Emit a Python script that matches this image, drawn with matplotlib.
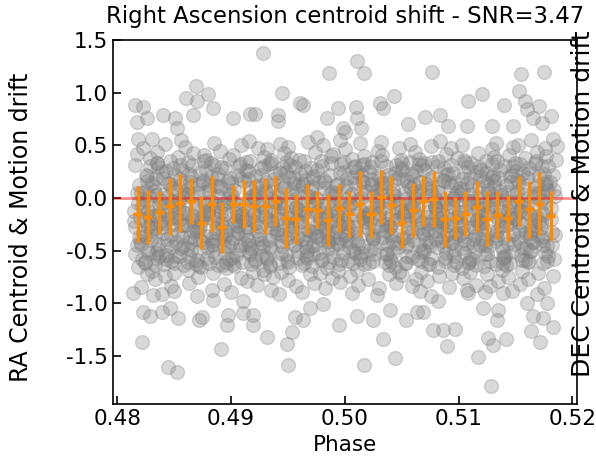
import numpy as np
import matplotlib
matplotlib.use("Agg")
import matplotlib.pyplot as plt

# ------------------------------------- Data ----------#
# Binned centroid shift (orange error bars)
bin_phase = [0.4818, 0.4827, 0.4837, 0.4846, 0.4855, 0.4865, 0.4874, 0.4883,
             0.4892, 0.4902, 0.4911, 0.4920, 0.4930, 0.4939, 0.4948, 0.4957,
             0.4967, 0.4976, 0.4985, 0.4995, 0.5004, 0.5013, 0.5023, 0.5032,
             0.5041, 0.5050, 0.5060, 0.5069, 0.5078, 0.5088, 0.5097, 0.5106,
             0.5116, 0.5125, 0.5134, 0.5143, 0.5153, 0.5162, 0.5171, 0.5181]
bin_mean = [-0.151, -0.180, -0.137, -0.081, -0.047, -0.031, -0.235, -0.053,
            -0.280, -0.055, -0.059, -0.078, -0.075, -0.031, -0.188, -0.201,
            -0.105, -0.110, -0.209, -0.100, -0.153, -0.059, -0.156, 0.006,
            -0.067, -0.241, -0.114, -0.031, -0.011, -0.201, -0.193, -0.148,
            -0.082, -0.196, -0.164, -0.188, -0.028, -0.109, -0.053, -0.169]
bin_err = [0.263, 0.260, 0.201, 0.269, 0.276, 0.219, 0.254, 0.266,
           0.239, 0.179, 0.231, 0.250, 0.263, 0.235, 0.284, 0.239,
           0.233, 0.180, 0.247, 0.228, 0.217, 0.311, 0.220, 0.255,
           0.271, 0.231, 0.257, 0.235, 0.263, 0.265, 0.199, 0.212,
           0.241, 0.260, 0.228, 0.220, 0.241, 0.268, 0.298, 0.233]

# Individual points - the band, one line per 0.001 of phase
core_phase = [
    0.4815, 0.4816, 0.4817, 0.4818, 0.4819, 0.4816, 0.4818, 0.4817,
    0.4821, 0.4823, 0.4825, 0.4822, 0.4827, 0.4829, 0.4824, 0.4826, 0.4828, 0.4820, 0.4823, 0.4827, 0.4825, 0.4829, 0.4821, 0.4826, 0.4824, 0.4828,
    0.4830, 0.4832, 0.4834, 0.4836, 0.4838, 0.4831, 0.4833, 0.4835, 0.4837, 0.4839, 0.4832, 0.4836, 0.4830, 0.4834, 0.4838, 0.4833, 0.4837, 0.4835,
    0.4843, 0.4846, 0.4841, 0.4848, 0.4844, 0.4849, 0.4842, 0.4847, 0.4840, 0.4845, 0.4848, 0.4841, 0.4846, 0.4843, 0.4849, 0.4844, 0.4842, 0.4847,
    0.4852, 0.4855, 0.4858, 0.4850, 0.4853, 0.4856, 0.4859, 0.4851, 0.4854, 0.4857, 0.4850, 0.4853, 0.4855, 0.4858, 0.4852, 0.4856, 0.4859, 0.4854,
    0.4861, 0.4864, 0.4867, 0.4860, 0.4862, 0.4865, 0.4868, 0.4863, 0.4866, 0.4869, 0.4861, 0.4864, 0.4867, 0.4862, 0.4865, 0.4868, 0.4860, 0.4866,
    0.4870, 0.4873, 0.4876, 0.4879, 0.4872, 0.4875, 0.4878, 0.4871, 0.4874, 0.4877, 0.4870, 0.4873, 0.4876, 0.4879, 0.4872, 0.4875, 0.4878, 0.4874,
    0.4882, 0.4886, 0.4889, 0.4881, 0.4884, 0.4888, 0.4880, 0.4883, 0.4887, 0.4885, 0.4882, 0.4886, 0.4889, 0.4881, 0.4884, 0.4888, 0.4883, 0.4887,
    0.4891, 0.4895, 0.4898, 0.4893, 0.4890, 0.4896, 0.4899, 0.4892, 0.4894, 0.4897, 0.4891, 0.4895, 0.4898, 0.4893, 0.4890, 0.4896, 0.4899, 0.4894,
    0.4900, 0.4904, 0.4907, 0.4902, 0.4905, 0.4909, 0.4901, 0.4903, 0.4906, 0.4908, 0.4900, 0.4904, 0.4907, 0.4902, 0.4905, 0.4909, 0.4903, 0.4906,
    0.4913, 0.4917, 0.4910, 0.4915, 0.4919, 0.4912, 0.4916, 0.4911, 0.4914, 0.4918, 0.4913, 0.4917, 0.4910, 0.4915, 0.4919, 0.4912, 0.4916, 0.4918,
    0.4921, 0.4924, 0.4928, 0.4922, 0.4926, 0.4929, 0.4920, 0.4923, 0.4925, 0.4927, 0.4921, 0.4924, 0.4928, 0.4922, 0.4926, 0.4929, 0.4925, 0.4920,
    0.4930, 0.4933, 0.4936, 0.4939, 0.4931, 0.4934, 0.4937, 0.4932, 0.4935, 0.4938, 0.4930, 0.4933, 0.4936, 0.4939, 0.4931, 0.4934, 0.4937, 0.4935,
    0.4942, 0.4945, 0.4948, 0.4941, 0.4944, 0.4947, 0.4940, 0.4943, 0.4946, 0.4949, 0.4942, 0.4945, 0.4948, 0.4941, 0.4944, 0.4947, 0.4949, 0.4943,
    0.4951, 0.4955, 0.4959, 0.4953, 0.4957, 0.4950, 0.4954, 0.4958, 0.4952, 0.4956, 0.4951, 0.4955, 0.4959, 0.4953, 0.4957, 0.4950, 0.4954, 0.4958,
    0.4960, 0.4964, 0.4967, 0.4962, 0.4965, 0.4969, 0.4961, 0.4963, 0.4966, 0.4968, 0.4960, 0.4964, 0.4967, 0.4962, 0.4965, 0.4969, 0.4963, 0.4966,
    0.4973, 0.4976, 0.4979, 0.4971, 0.4974, 0.4978, 0.4970, 0.4972, 0.4975, 0.4977, 0.4973, 0.4976, 0.4979, 0.4971, 0.4974, 0.4978, 0.4972, 0.4975,
    0.4982, 0.4985, 0.4988, 0.4980, 0.4984, 0.4987, 0.4981, 0.4983, 0.4986, 0.4989, 0.4982, 0.4985, 0.4988, 0.4980, 0.4984, 0.4987, 0.4989, 0.4983,
    0.4991, 0.4994, 0.4997, 0.4990, 0.4993, 0.4996, 0.4999, 0.4992, 0.4995, 0.4998, 0.4991, 0.4994, 0.4997, 0.4990, 0.4993, 0.4996, 0.4998, 0.4995,
    0.5000, 0.5003, 0.5006, 0.5009, 0.5002, 0.5005, 0.5008, 0.5001, 0.5004, 0.5007, 0.5000, 0.5003, 0.5006, 0.5009, 0.5002, 0.5005, 0.5008, 0.5004,
    0.5012, 0.5015, 0.5019, 0.5011, 0.5014, 0.5017, 0.5010, 0.5013, 0.5016, 0.5018, 0.5012, 0.5015, 0.5019, 0.5011, 0.5014, 0.5017, 0.5013, 0.5016,
    0.5021, 0.5024, 0.5028, 0.5020, 0.5023, 0.5026, 0.5029, 0.5022, 0.5025, 0.5027, 0.5021, 0.5024, 0.5028, 0.5020, 0.5023, 0.5026, 0.5029, 0.5025,
    0.5030, 0.5033, 0.5037, 0.5032, 0.5035, 0.5039, 0.5031, 0.5034, 0.5036, 0.5038, 0.5030, 0.5033, 0.5037, 0.5032, 0.5035, 0.5039, 0.5034, 0.5036,
    0.5042, 0.5046, 0.5049, 0.5041, 0.5044, 0.5048, 0.5040, 0.5043, 0.5045, 0.5047, 0.5042, 0.5046, 0.5049, 0.5041, 0.5044, 0.5048, 0.5045, 0.5040,
    0.5051, 0.5055, 0.5058, 0.5053, 0.5050, 0.5056, 0.5059, 0.5052, 0.5054, 0.5057, 0.5051, 0.5055, 0.5058, 0.5053, 0.5050, 0.5056, 0.5059, 0.5054,
    0.5060, 0.5064, 0.5067, 0.5062, 0.5065, 0.5069, 0.5061, 0.5063, 0.5066, 0.5068, 0.5060, 0.5064, 0.5067, 0.5062, 0.5065, 0.5069, 0.5063, 0.5066,
    0.5073, 0.5077, 0.5070, 0.5075, 0.5079, 0.5072, 0.5076, 0.5071, 0.5074, 0.5078, 0.5073, 0.5077, 0.5070, 0.5075, 0.5079, 0.5072, 0.5076, 0.5078,
    0.5081, 0.5084, 0.5088, 0.5082, 0.5086, 0.5089, 0.5080, 0.5083, 0.5085, 0.5087, 0.5081, 0.5084, 0.5088, 0.5082, 0.5086, 0.5089, 0.5085, 0.5080,
    0.5090, 0.5093, 0.5096, 0.5099, 0.5091, 0.5094, 0.5097, 0.5092, 0.5095, 0.5098, 0.5090, 0.5093, 0.5096, 0.5099, 0.5091, 0.5094, 0.5097, 0.5095,
    0.5102, 0.5105, 0.5108, 0.5101, 0.5104, 0.5107, 0.5100, 0.5103, 0.5106, 0.5109, 0.5102, 0.5105, 0.5108, 0.5101, 0.5104, 0.5107, 0.5109, 0.5103,
    0.5111, 0.5115, 0.5119, 0.5113, 0.5117, 0.5110, 0.5114, 0.5118, 0.5112, 0.5116, 0.5111, 0.5115, 0.5119, 0.5113, 0.5117, 0.5110, 0.5114, 0.5118,
    0.5120, 0.5124, 0.5127, 0.5122, 0.5125, 0.5129, 0.5121, 0.5123, 0.5126, 0.5128, 0.5120, 0.5124, 0.5127, 0.5122, 0.5125, 0.5129, 0.5123, 0.5126,
    0.5133, 0.5136, 0.5139, 0.5131, 0.5134, 0.5138, 0.5130, 0.5132, 0.5135, 0.5137, 0.5133, 0.5136, 0.5139, 0.5131, 0.5134, 0.5138, 0.5132, 0.5135,
    0.5142, 0.5145, 0.5148, 0.5140, 0.5144, 0.5147, 0.5141, 0.5143, 0.5146, 0.5149, 0.5142, 0.5145, 0.5148, 0.5140, 0.5144, 0.5147, 0.5149, 0.5143,
    0.5151, 0.5154, 0.5157, 0.5150, 0.5153, 0.5156, 0.5159, 0.5152, 0.5155, 0.5158, 0.5151, 0.5154, 0.5157, 0.5150, 0.5153, 0.5156, 0.5158, 0.5155,
    0.5160, 0.5163, 0.5166, 0.5169, 0.5162, 0.5165, 0.5168, 0.5161, 0.5164, 0.5167, 0.5160, 0.5163, 0.5166, 0.5169, 0.5162, 0.5165, 0.5168, 0.5164,
    0.5172, 0.5175, 0.5179, 0.5171, 0.5174, 0.5177, 0.5170, 0.5173, 0.5176, 0.5178, 0.5172, 0.5175, 0.5179, 0.5171, 0.5174, 0.5177, 0.5173, 0.5176,
    0.5180, 0.5182, 0.5184, 0.5186, 0.5181, 0.5183, 0.5185, 0.5182,
]
core_drift = [
    -0.12, 0.31, -0.45, -0.66, 0.12, -0.28, -0.05, 0.42,
    0.05, -0.33, 0.22, -0.58, -0.12, 0.38, -0.21, -0.72, 0.02, -0.41, 0.47, -0.49, -0.03, -0.27, -0.85, 0.16, -0.62, -0.17,
    -0.24, 0.11, -0.52, 0.29, -0.08, -0.69, -0.36, 0.44, -0.15, -0.91, 0.07, -0.44, -0.31, 0.19, -0.02, -0.77, -0.55, 0.33,
    0.26, -0.19, -0.63, 0.09, -0.39, -0.07, 0.51, -0.84, -0.28, 0.14, -0.47, -0.11, 0.35, -0.58, -0.25, 0.01, -0.74, -0.35,
    -0.42, 0.18, -0.13, -0.71, 0.39, -0.26, 0.04, -0.55, -0.09, 0.27, -0.88, -0.34, 0.12, -0.46, -0.18, 0.55, -0.64, -0.02,
    0.08, -0.37, 0.43, -0.14, -0.61, 0.21, -0.29, -0.81, 0.31, -0.06, -0.48, 0.15, -0.22, -0.68, 0.02, -0.39, 0.48, -0.16,
    -0.31, 0.24, -0.05, -0.57, 0.13, -0.42, 0.36, -0.75, -0.19, 0.06, -0.93, -0.27, 0.41, -0.12, -0.51, 0.17, -0.36, -0.66,
    0.33, -0.23, -0.64, 0.07, -0.41, 0.19, -0.12, -0.87, -0.33, 0.52, -0.03, -0.56, 0.23, -0.18, -0.71, 0.11, -0.44, -0.08,
    -0.09, 0.28, -0.46, -0.21, 0.45, -0.67, 0.04, -0.34, -0.82, 0.16, -0.13, -0.52, 0.37, -0.28, 0.09, -0.61, -0.04, -0.39,
    0.14, -0.54, -0.17, 0.41, -0.32, -0.76, 0.03, -0.24, 0.22, -0.45, -0.89, -0.06, 0.30, -0.38, -0.15, 0.50, -0.65, -0.27,
    -0.36, 0.09, -0.61, 0.26, -0.11, -0.44, 0.54, -0.22, -0.79, 0.01, 0.34, -0.53, -0.19, 0.18, -0.70, -0.30, -0.02, -0.48,
    0.21, -0.27, -0.68, 0.05, -0.43, 0.39, -0.14, -0.83, -0.35, 0.12, -0.58, 0.47, -0.09, -0.24, 0.28, -0.72, -0.47, 0.00,
    -0.18, 0.32, -0.49, -0.04, 0.15, -0.63, -0.29, 0.46, -0.87, -0.12, 0.08, -0.40, -0.22, 0.24, -0.56, -0.01, -0.75, 0.36,
    0.03, -0.46, 0.25, -0.20, -0.70, 0.43, -0.33, -0.08, 0.16, -0.59, -0.91, -0.26, 0.34, -0.13, -0.52, 0.10, -0.38, 0.51,
    -0.25, 0.19, -0.57, 0.38, -0.10, -0.78, 0.06, -0.37, -0.16, 0.29, -0.66, -0.45, 0.12, -0.03, -0.84, 0.48, -0.30, -0.21,
    0.36, -0.14, -0.50, 0.11, -0.34, -0.72, 0.23, -0.05, -0.42, 0.53, -0.23, -0.62, 0.02, -0.89, 0.17, -0.31, -0.11, -0.55,
    -0.07, 0.27, -0.39, -0.65, 0.44, -0.19, 0.08, -0.53, -0.28, 0.15, -0.81, -0.02, 0.35, -0.46, -0.14, -0.71, 0.21, -0.36,
    0.17, -0.41, -0.11, 0.30, -0.67, -0.24, 0.50, -0.86, -0.04, -0.48, 0.09, -0.33, 0.40, -0.58, -0.17, 0.04, -0.76, -0.29,
    -0.32, 0.13, -0.59, 0.42, -0.16, -0.80, 0.25, -0.06, -0.44, -0.21, 0.05, -0.69, 0.32, -0.38, -0.12, 0.55, -0.52, -0.26,
    0.10, -0.28, 0.37, -0.52, -0.09, -0.74, 0.20, -0.40, 0.01, -0.62, 0.46, -0.18, -0.90, 0.14, -0.33, -0.05, 0.29, -0.47,
    -0.44, 0.22, -0.15, -0.68, 0.06, 0.40, -0.30, -0.55, 0.15, -0.08, -0.83, 0.31, -0.23, -0.41, 0.00, -0.63, 0.52, -0.19,
    0.26, -0.36, -0.02, -0.77, 0.12, -0.48, 0.45, -0.21, -0.60, 0.07, -0.13, 0.34, -0.92, -0.29, 0.18, -0.53, -0.07, -0.39,
    -0.20, 0.41, -0.53, 0.04, -0.30, -0.72, 0.19, -0.10, 0.30, -0.45, -0.86, 0.09, -0.25, 0.53, -0.61, -0.04, -0.37, 0.14,
    0.08, -0.43, 0.28, -0.16, -0.66, 0.47, -0.27, -0.03, -0.81, 0.19, -0.51, -0.12, 0.36, -0.35, 0.02, -0.70, -0.21, -0.58,
    -0.38, 0.16, -0.08, -0.62, 0.33, -0.24, -0.84, 0.05, -0.46, 0.51, -0.17, -0.55, 0.23, -0.01, -0.73, 0.11, -0.32, -0.12,
    0.21, -0.29, -0.70, 0.44, -0.06, -0.49, 0.12, -0.20, -0.88, 0.31, -0.40, 0.02, -0.60, -0.14, 0.37, -0.34, -0.77, 0.07,
    -0.13, 0.34, -0.50, 0.09, -0.25, -0.79, 0.49, -0.39, 0.18, -0.04, -0.63, -0.22, 0.27, -0.45, -0.09, 0.03, -0.93, -0.31,
    0.30, -0.19, -0.57, 0.06, -0.37, 0.42, -0.10, -0.74, -0.28, 0.16, -0.47, 0.54, -0.02, -0.66, -0.23, 0.22, -0.41, -0.15,
    -0.26, 0.12, -0.64, 0.38, -0.11, -0.42, 0.03, -0.85, 0.24, -0.33, -0.05, 0.47, -0.55, -0.18, 0.15, -0.71, -0.36, 0.00,
    0.04, -0.52, 0.29, -0.21, -0.76, 0.14, -0.35, 0.50, -0.08, -0.61, -0.27, 0.36, -0.90, -0.13, 0.08, -0.44, -0.03, -0.67,
    -0.16, 0.25, -0.45, -0.03, 0.43, -0.70, -0.31, 0.10, -0.58, -0.22, 0.33, -0.83, 0.01, -0.39, -0.12, 0.19, -0.50, -0.26,
    0.27, -0.40, -0.09, -0.65, 0.13, 0.46, -0.23, -0.53, 0.05, -0.84, -0.17, 0.35, -0.31, -0.06, -0.72, 0.20, -0.45, -0.14,
    -0.35, 0.07, -0.62, 0.39, -0.18, -0.47, 0.22, -0.01, -0.79, -0.27, 0.52, -0.11, -0.56, 0.16, -0.38, -0.68, 0.02, -0.21,
    0.12, -0.25, 0.48, -0.57, -0.07, -0.88, 0.30, -0.43, -0.16, 0.03, -0.64, 0.21, -0.34, -0.02, 0.41, -0.51, -0.20, -0.75,
    -0.04, 0.32, -0.48, -0.19, 0.15, -0.69, -0.33, 0.50, -0.12, -0.59, 0.06, -0.82, -0.26, 0.26, -0.41, -0.08, 0.38, -0.54,
    0.19, -0.37, -0.06, 0.44, -0.60, -0.22, 0.10, -0.77, -0.30, 0.33, -0.13, -0.50, 0.02, -0.91, 0.24, -0.42, -0.17, 0.55,
    -0.29, 0.23, -0.55, 0.05, -0.14, 0.40, -0.71, -0.37, 0.13, -0.46, -0.02, -0.86, 0.30, -0.23, -0.62, 0.09, -0.40, 0.47,
    0.15, -0.32, -0.58, 0.36, -0.10, -0.74, 0.02, -0.45,
]

# Extra points in the darkest middle of the band
dense_phase = [
    0.4815, 0.4817, 0.4819, 0.4816,
    0.4822, 0.4824, 0.4826, 0.4828, 0.4820, 0.4825, 0.4821, 0.4823, 0.4827, 0.4829, 0.4824, 0.4826,
    0.4831, 0.4833, 0.4835, 0.4837, 0.4839, 0.4830, 0.4832, 0.4834, 0.4836, 0.4838, 0.4835, 0.4833,
    0.4840, 0.4842, 0.4845, 0.4847, 0.4849, 0.4841, 0.4844, 0.4846, 0.4848, 0.4843, 0.4845, 0.4840,
    0.4851, 0.4854, 0.4856, 0.4859, 0.4850, 0.4853, 0.4855, 0.4857, 0.4858, 0.4852, 0.4854, 0.4851,
    0.4860, 0.4863, 0.4865, 0.4868, 0.4862, 0.4864, 0.4866, 0.4869, 0.4861, 0.4867, 0.4863, 0.4865,
    0.4871, 0.4873, 0.4876, 0.4878, 0.4870, 0.4872, 0.4875, 0.4877, 0.4879, 0.4874, 0.4876, 0.4872,
    0.4880, 0.4882, 0.4884, 0.4887, 0.4889, 0.4881, 0.4883, 0.4885, 0.4888, 0.4886, 0.4884, 0.4881,
    0.4891, 0.4893, 0.4896, 0.4898, 0.4890, 0.4892, 0.4894, 0.4897, 0.4899, 0.4895, 0.4893, 0.4896,
    0.4900, 0.4903, 0.4905, 0.4908, 0.4901, 0.4904, 0.4906, 0.4909, 0.4902, 0.4907, 0.4905, 0.4902,
    0.4911, 0.4914, 0.4916, 0.4919, 0.4910, 0.4913, 0.4915, 0.4918, 0.4912, 0.4917, 0.4914, 0.4916,
    0.4920, 0.4922, 0.4925, 0.4927, 0.4929, 0.4921, 0.4924, 0.4926, 0.4928, 0.4923, 0.4925, 0.4927,
    0.4931, 0.4934, 0.4936, 0.4938, 0.4930, 0.4932, 0.4935, 0.4937, 0.4939, 0.4933, 0.4936, 0.4934,
    0.4940, 0.4943, 0.4945, 0.4948, 0.4941, 0.4944, 0.4946, 0.4949, 0.4942, 0.4947, 0.4945, 0.4943,
    0.4951, 0.4953, 0.4956, 0.4958, 0.4950, 0.4952, 0.4954, 0.4957, 0.4959, 0.4955, 0.4953, 0.4956,
    0.4960, 0.4962, 0.4965, 0.4967, 0.4969, 0.4961, 0.4963, 0.4966, 0.4968, 0.4964, 0.4962, 0.4967,
    0.4971, 0.4974, 0.4976, 0.4979, 0.4970, 0.4973, 0.4975, 0.4978, 0.4972, 0.4977, 0.4974, 0.4976,
    0.4980, 0.4983, 0.4985, 0.4988, 0.4981, 0.4984, 0.4986, 0.4989, 0.4982, 0.4987, 0.4985, 0.4983,
    0.4991, 0.4993, 0.4996, 0.4998, 0.4990, 0.4992, 0.4994, 0.4997, 0.4999, 0.4995, 0.4993, 0.4996,
    0.5000, 0.5002, 0.5005, 0.5007, 0.5009, 0.5001, 0.5003, 0.5006, 0.5008, 0.5004, 0.5002, 0.5007,
    0.5011, 0.5014, 0.5016, 0.5019, 0.5010, 0.5013, 0.5015, 0.5018, 0.5012, 0.5017, 0.5014, 0.5016,
    0.5020, 0.5023, 0.5025, 0.5028, 0.5021, 0.5024, 0.5026, 0.5029, 0.5022, 0.5027, 0.5025, 0.5023,
    0.5031, 0.5033, 0.5036, 0.5038, 0.5030, 0.5032, 0.5034, 0.5037, 0.5039, 0.5035, 0.5033, 0.5036,
    0.5040, 0.5042, 0.5045, 0.5047, 0.5049, 0.5041, 0.5043, 0.5046, 0.5048, 0.5044, 0.5042, 0.5047,
    0.5051, 0.5054, 0.5056, 0.5059, 0.5050, 0.5053, 0.5055, 0.5058, 0.5052, 0.5057, 0.5054, 0.5056,
    0.5060, 0.5063, 0.5065, 0.5068, 0.5061, 0.5064, 0.5066, 0.5069, 0.5062, 0.5067, 0.5065, 0.5063,
    0.5071, 0.5073, 0.5076, 0.5078, 0.5070, 0.5072, 0.5074, 0.5077, 0.5079, 0.5075, 0.5073, 0.5076,
    0.5080, 0.5082, 0.5085, 0.5087, 0.5089, 0.5081, 0.5083, 0.5086, 0.5088, 0.5084, 0.5082, 0.5087,
    0.5091, 0.5094, 0.5096, 0.5099, 0.5090, 0.5093, 0.5095, 0.5098, 0.5092, 0.5097, 0.5094, 0.5096,
    0.5100, 0.5103, 0.5105, 0.5108, 0.5101, 0.5104, 0.5106, 0.5109, 0.5102, 0.5107, 0.5105, 0.5103,
    0.5111, 0.5113, 0.5116, 0.5118, 0.5110, 0.5112, 0.5114, 0.5117, 0.5119, 0.5115, 0.5113, 0.5116,
    0.5120, 0.5122, 0.5125, 0.5127, 0.5129, 0.5121, 0.5123, 0.5126, 0.5128, 0.5124, 0.5122, 0.5127,
    0.5131, 0.5134, 0.5136, 0.5139, 0.5130, 0.5133, 0.5135, 0.5138, 0.5132, 0.5137, 0.5134, 0.5136,
    0.5140, 0.5143, 0.5145, 0.5148, 0.5141, 0.5144, 0.5146, 0.5149, 0.5142, 0.5147, 0.5145, 0.5143,
    0.5151, 0.5153, 0.5156, 0.5158, 0.5150, 0.5152, 0.5154, 0.5157, 0.5159, 0.5155, 0.5153, 0.5156,
    0.5160, 0.5162, 0.5165, 0.5167, 0.5169, 0.5161, 0.5163, 0.5166, 0.5168, 0.5164, 0.5162, 0.5167,
    0.5171, 0.5174, 0.5176, 0.5179, 0.5170, 0.5173, 0.5175, 0.5178, 0.5172, 0.5177, 0.5174, 0.5176,
    0.5181, 0.5183, 0.5185, 0.5184,
]
dense_drift = [
    -0.22, 0.05, -0.37, -0.53,
    -0.08, -0.36, 0.21, -0.52, -0.19, 0.07, -0.44, -0.01, -0.27, 0.30, -0.61, -0.14,
    0.14, -0.29, -0.57, -0.06, 0.25, -0.40, -0.17, 0.03, -0.49, -0.23, 0.33, -0.64,
    -0.33, 0.04, -0.15, -0.60, 0.28, -0.24, -0.45, 0.13, -0.03, -0.54, -0.20, 0.19,
    0.22, -0.21, -0.48, 0.01, -0.62, -0.11, 0.31, -0.37, -0.26, 0.08, -0.55, -0.04,
    -0.26, -0.55, 0.10, -0.09, 0.34, -0.42, -0.19, -0.63, 0.04, -0.31, 0.23, -0.49,
    0.05, -0.40, -0.16, 0.27, -0.59, -0.30, 0.15, -0.07, -0.47, -0.22, 0.35, -0.65,
    -0.14, 0.20, -0.50, -0.29, 0.02, -0.62, -0.38, 0.31, -0.20, -0.05, -0.45, 0.12,
    0.29, -0.06, -0.35, -0.58, 0.11, -0.24, -0.46, 0.00, 0.19, -0.15, -0.64, -0.31,
    -0.42, 0.08, -0.21, 0.32, -0.57, -0.11, -0.33, 0.18, -0.03, -0.49, -0.26, -0.63,
    0.16, -0.28, -0.51, 0.03, -0.15, 0.27, -0.40, -0.63, -0.08, 0.35, -0.20, -0.45,
    -0.23, 0.11, -0.39, -0.02, 0.30, -0.60, -0.16, 0.22, -0.46, -0.31, -0.07, -0.55,
    0.06, -0.47, -0.25, 0.18, -0.12, -0.58, 0.33, -0.36, -0.03, -0.21, 0.12, -0.65,
    -0.30, 0.24, -0.10, -0.53, 0.01, -0.41, 0.29, -0.19, -0.62, 0.09, -0.35, -0.05,
    0.20, -0.18, -0.44, 0.05, -0.61, 0.31, -0.27, -0.09, -0.50, 0.14, -0.33, -0.01,
    -0.11, -0.39, 0.26, -0.57, 0.02, -0.22, 0.13, -0.47, -0.30, 0.35, -0.64, -0.17,
    0.10, -0.32, -0.13, -0.59, 0.28, -0.45, 0.00, -0.24, 0.19, -0.52, -0.06, -0.37,
    -0.20, 0.15, -0.48, 0.33, -0.08, -0.36, -0.61, 0.06, -0.27, 0.22, -0.42, -0.14,
    0.02, -0.43, 0.24, -0.15, -0.56, 0.12, -0.29, -0.04, 0.34, -0.63, -0.21, -0.38,
    -0.35, 0.19, -0.07, -0.50, 0.30, -0.24, -0.60, 0.04, -0.16, -0.41, 0.11, -0.28,
    0.25, -0.12, -0.46, 0.07, -0.33, -0.58, 0.16, -0.22, -0.02, 0.32, -0.52, -0.18,
    -0.16, 0.29, -0.38, -0.05, -0.62, 0.13, -0.27, 0.21, -0.49, -0.10, 0.02, -0.34,
    0.09, -0.26, -0.53, 0.22, -0.14, 0.35, -0.43, -0.02, -0.64, -0.19, 0.14, -0.31,
    -0.28, 0.04, 0.31, -0.47, -0.12, -0.60, 0.17, -0.35, -0.06, 0.24, -0.41, -0.20,
    0.18, -0.37, -0.05, -0.56, 0.27, -0.21, -0.44, 0.09, -0.14, 0.34, -0.62, -0.29,
    -0.09, 0.26, -0.45, -0.23, 0.05, -0.58, 0.15, -0.32, -0.01, -0.51, 0.32, -0.17,
    0.13, -0.30, -0.57, 0.01, 0.33, -0.18, -0.42, 0.20, -0.08, -0.63, -0.25, 0.07,
    -0.39, 0.10, -0.14, 0.28, -0.52, -0.03, -0.31, 0.17, -0.60, -0.22, 0.35, -0.46,
    0.23, -0.20, -0.49, 0.06, -0.34, 0.31, -0.09, -0.61, -0.26, 0.14, -0.43, -0.01,
    -0.13, 0.18, -0.40, -0.62, 0.09, -0.27, 0.34, -0.05, -0.48, -0.19, 0.25, -0.33,
    0.04, -0.45, -0.21, 0.29, -0.58, 0.12, -0.36, -0.10, 0.21, -0.64, -0.28, 0.00,
    -0.24, 0.16, -0.53, -0.02, 0.32, -0.39, -0.15, 0.08, -0.60, 0.24, -0.30, -0.46,
    0.11, -0.31, 0.27, -0.50, -0.07, -0.63, 0.19, -0.22, -0.41, 0.03, 0.35, -0.16,
    -0.37, 0.06, -0.18, 0.30, -0.55, -0.04, 0.15, -0.44, -0.26, 0.22, -0.62, -0.11,
    0.17, -0.23, -0.59, 0.03, 0.33, -0.38, -0.12, 0.24, -0.48, -0.02, -0.30, 0.10,
    -0.06, 0.28, -0.42, -0.20, 0.12, -0.61, -0.33, 0.05, 0.35, -0.50, -0.15, -0.27,
    0.21, -0.16, -0.52, 0.08, -0.35, 0.30, -0.04, -0.60, -0.24, 0.15, -0.45, 0.02,
    -0.20, 0.22, -0.35, 0.08,
]

# Points standing out above the band
high_phase = [0.49284, 0.49861, 0.48692, 0.48795, 0.49445, 0.48604, 0.48156, 0.48223,
              0.49606, 0.49635, 0.49938, 0.49841, 0.48703, 0.48844, 0.48404, 0.48507,
              0.48663, 0.48171, 0.48258, 0.49020, 0.49167, 0.49211, 0.49415, 0.49415,
              0.48185, 0.48302, 0.48522, 0.49753, 0.49987, 0.50110, 0.50169, 0.50764,
              0.51751, 0.51546, 0.50433, 0.51203, 0.51086, 0.51534, 0.50309, 0.50338,
              0.51400, 0.51584, 0.51599, 0.51710, 0.51810, 0.50098, 0.50110, 0.50140,
              0.50558, 0.50705, 0.50837, 0.50910, 0.51072, 0.51291, 0.51482, 0.51657,
              0.51731, 0.51833, 0.51863, 0.50002]
high_drift = [1.38, 1.19, 1.06, 0.99, 1.00, 0.95, 0.88, 0.86,
              0.90, 0.88, 0.85, 0.76, 0.92, 0.85, 0.79, 0.76,
              0.79, 0.72, 0.76, 0.76, 0.80, 0.80, 0.79, 0.73,
              0.56, 0.56, 0.66, 0.58, 0.66, 1.30, 1.19, 1.20,
              1.20, 1.18, 0.97, 0.99, 0.92, 1.02, 0.90, 0.85,
              0.88, 0.92, 0.84, 0.87, 0.78, 0.86, 0.76, 0.66,
              0.70, 0.77, 0.79, 0.68, 0.68, 0.68, 0.68, 0.76,
              0.71, 0.56, 0.49, 0.63]

# Points standing out below the band
low_phase = [0.48214, 0.48448, 0.48522, 0.48912, 0.49503, 0.49489, 0.49533, 0.49313,
             0.49952, 0.50169, 0.50333, 0.50444, 0.51285, 0.51174, 0.51262, 0.51306,
             0.51417, 0.51716, 0.51634, 0.51833, 0.50896, 0.50866, 0.50778, 0.50969,
             0.51212, 0.51349, 0.51335, 0.50538, 0.50632, 0.50690, 0.50397, 0.50251,
             0.50105, 0.49562, 0.49635, 0.49196, 0.49196, 0.49108, 0.48962, 0.48976,
             0.48715, 0.48742, 0.48536, 0.48463, 0.48390, 0.48229, 0.48287, 0.51657,
             0.51745, 0.51775, 0.51599, 0.51388, 0.51233, 0.51072, 0.50822, 0.49694,
             0.49811, 0.49108, 0.48844, 0.48141, 0.48316]
low_drift = [-1.37, -1.61, -1.65, -1.43, -1.59, -1.39, -1.27, -1.32,
             -1.21, -1.59, -1.34, -1.52, -1.79, -1.51, -1.33, -1.40,
             -1.34, -1.37, -1.26, -1.23, -1.41, -1.25, -1.25, -1.24,
             -1.05, -1.06, -1.16, -1.16, -1.08, -1.08, -1.06, -1.16,
             -1.12, -1.13, -1.16, -1.21, -1.11, -1.09, -1.21, -1.11,
             -1.16, -1.13, -1.14, -1.05, -1.08, -1.08, -1.12, -1.12,
             -1.14, -1.00, -1.00, -0.90, -0.89, -0.87, -0.98, -1.05,
             -1.01, -0.98, -0.97, -0.90, -0.92]

title = "Right Ascension centroid shift - SNR=3.47"

# ------------------------------------- Plot ---------------------------------#
phase = np.concatenate([core_phase, dense_phase, high_phase, low_phase])
drift = np.concatenate([core_drift, dense_drift, high_drift, low_drift])

fig = plt.figure(figsize=(5.96, 4.65), dpi=100)
ax = fig.add_axes([0.189, 0.1305, 0.779, 0.7835])

ax.scatter(phase, drift, s=100, color='gray', alpha=0.3, zorder=2)
ax.axhline(0, color='red', alpha=0.45, lw=2, zorder=2.5)
ax.errorbar(bin_phase, bin_mean, yerr=bin_err, xerr=0.0004, fmt='.',
            color='darkorange', ms=5, elinewidth=2.4, zorder=3)

ax.set_xlim(0.4796, 0.5204)
ax.set_ylim(-1.96, 1.5)
ax.set_xticks([0.48, 0.49, 0.50, 0.51, 0.52])
ax.set_yticks([-1.5, -1.0, -0.5, 0.0, 0.5, 1.0, 1.5])
ax.xaxis.set_major_formatter(matplotlib.ticker.FormatStrFormatter('%.2f'))
ax.yaxis.set_major_formatter(matplotlib.ticker.FormatStrFormatter('%.1f'))
ax.tick_params(direction='in', length=5.5, width=1.2, labelsize=15.5)

for sp in ax.spines.values():
    sp.set_linewidth(1.2)

ax.set_xlabel('Phase', fontsize=15.5)
ax.set_title(title, fontsize=16.4, pad=12)
fig.text(21 / 596, 1 - 227 / 465, 'RA Centroid & Motion drift', fontsize=17,
         rotation=90, ha='center', va='center')
fig.text(583 / 596, 1 - 204 / 465, 'DEC Centroid & Motion drift', fontsize=18,
         rotation=90, ha='center', va='center')

fig.savefig('out.png', dpi=100)
